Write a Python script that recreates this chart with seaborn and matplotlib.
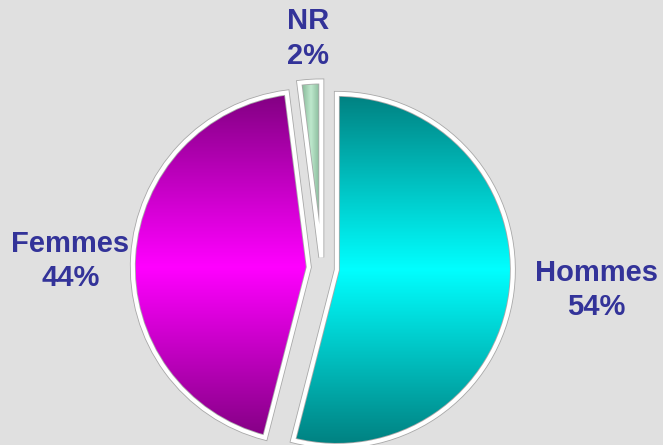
import numpy as np
import matplotlib
matplotlib.use("Agg")
import matplotlib.pyplot as plt
import matplotlib.patheffects as pe
import seaborn as sns

# Data
categories = ["Hommes", "Femmes", "NR"]
percents = [54, 44, 2]
explode = [0.085, 0.075, 0.06]

# gradient colours (dark edge, bright centre)
dark_cols = [(0, 128, 128), (128, 0, 128), (110, 165, 130)]
light_cols = [(0, 255, 255), (255, 0, 255), (190, 232, 205)]
horizontal = [False, False, True]

# label positions (data units)
label_pos = [(1.56, -0.125), (-1.43, 0.04), (-0.08, 1.305)]

sns.set_style("white")
plt.rcParams["font.family"] = ["Liberation Sans", "DejaVu Sans"]

bg = "#e0e0e0"
fig = plt.figure(figsize=(6.63, 4.45), dpi=100, facecolor=bg)
ax = fig.add_axes([0, 0, 1, 1])
ax.set_facecolor(bg)

wedges, _ = ax.pie(percents, explode=explode, startangle=90, counterclock=False,
                   radius=1.0,
                   wedgeprops=dict(edgecolor="white", linewidth=3, facecolor="none", zorder=3))


def fill_gradient(ax, wedge, dark, light, horiz):
    n = 256
    t = np.linspace(0, 1, n)
    w = 1 - np.abs(2 * t - 1)
    dark = np.array(dark) / 255.0
    light = np.array(light) / 255.0
    cols = np.outer(1 - w, dark) + np.outer(w, light)
    cx, cy = wedge.center
    r = wedge.r
    if horiz:
        # gradient across the thin wedge width
        img = cols[np.newaxis, :, :]
        x0 = cx + r * np.cos(np.deg2rad(max(wedge.theta1, wedge.theta2)))
        extent = (x0 - 0.01, cx + 0.01, cy - 0.05, cy + r + 0.05)
    else:
        img = cols[:, np.newaxis, :]
        extent = (cx - r - 0.05, cx + r + 0.05, cy - r, cy + r)
    im = ax.imshow(img, extent=extent, origin="lower", aspect="auto",
                   interpolation="bilinear", zorder=2)
    im.set_clip_path(wedge)


for wdg, d, l, h in zip(wedges, dark_cols, light_cols, horizontal):
    fill_gradient(ax, wdg, d, l, h)
    wdg.set_path_effects([pe.Stroke(linewidth=4.2, foreground="#a8a8a8"), pe.Normal()])

for cat, pct, (x, y) in zip(categories, percents, label_pos):
    ax.text(x, y, f"{cat}\n{pct}%", ha="center", va="center", multialignment="center",
            fontsize=21, fontweight="bold", color="#333399", linespacing=1.3)

# pixel scale: radius = 176 px, pie centre at (322, 268) px
scale = 176.0
cxp, cyp = 322.0, 268.0
ax.set_xlim(-cxp / scale, (663 - cxp) / scale)
ax.set_ylim(-(445 - cyp) / scale, cyp / scale)
ax.set_aspect("auto")
ax.axis("off")

fig.savefig("out.png", dpi=100, facecolor=bg)
